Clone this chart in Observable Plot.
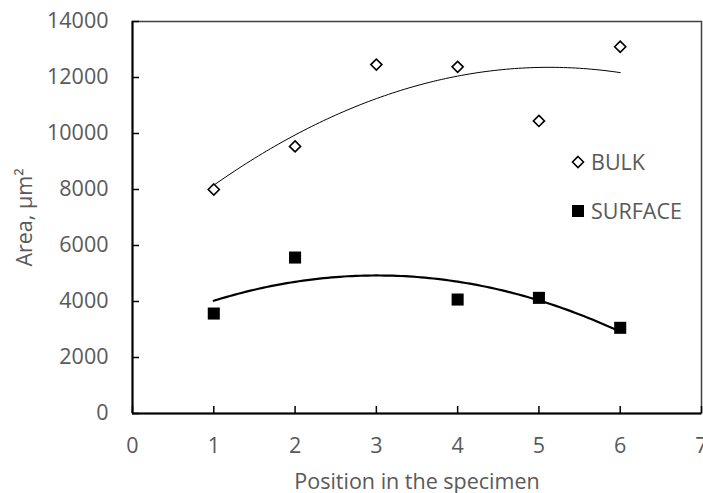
<!DOCTYPE html>
<html><head><meta charset="utf-8">
<script src="https://cdn.jsdelivr.net/npm/d3@7"></script>
<script src="https://cdn.jsdelivr.net/npm/@observablehq/plot@0.6"></script>
<style>
body{margin:0;background:#fff;font-family:"Open Sans",sans-serif;}
#wrap{position:relative;width:703px;height:493px;}
.leg{position:absolute;left:571px;font-size:21.5px;color:#595959;display:flex;align-items:center;white-space:nowrap;}
.leg svg{margin-right:6px;}
</style></head>
<body><div id="wrap"></div>
<script>
const positions = [1, 2, 3, 4, 5, 6];
const bulk = [8000, 9540, 12460, 12380, 10450, 13100];
const surfacePositions = [1, 2, 4, 5, 6];
const surface = [3570, 5570, 4070, 4130, 3060];
const xTicks = [0, 1, 2, 3, 4, 5, 6, 7];
const yTicks = [0, 2000, 4000, 6000, 8000, 10000, 12000, 14000];

const bulkData = positions.map((x, i) => ({x, y: bulk[i]}));
const surfData = surfacePositions.map((x, i) => ({x, y: surface[i]}));

// second-order polynomial trendline (least squares), as in the original chart
function polyFit(pts) {
  const n = pts.length;
  let sx=0,sx2=0,sx3=0,sx4=0,sy=0,sxy=0,sx2y=0;
  for (const {x,y} of pts){sx+=x;sx2+=x*x;sx3+=x**3;sx4+=x**4;sy+=y;sxy+=x*y;sx2y+=x*x*y;}
  const A=[[n,sx,sx2,sy],[sx,sx2,sx3,sxy],[sx2,sx3,sx4,sx2y]];
  for(let i=0;i<3;i++){for(let j=i+1;j<3;j++){const f=A[j][i]/A[i][i];for(let k=i;k<4;k++)A[j][k]-=f*A[i][k];}}
  const c=[0,0,0];
  for(let i=2;i>=0;i--){let s=A[i][3];for(let k=i+1;k<3;k++)s-=A[i][k]*c[k];c[i]=s/A[i][i];}
  const [x0,x1]=d3.extent(pts,d=>d.x);
  return d3.range(0,101).map(t=>{const x=x0+(x1-x0)*t/100;return {x,y:c[0]+c[1]*x+c[2]*x*x};});
}
const bulkTrend = polyFit(bulkData);
const surfTrend = polyFit(surfData);

const chart = Plot.plot({
  width: 703, height: 493,
  marginLeft: 132, marginRight: 2, marginTop: 21, marginBottom: 80,
  style: {fontFamily: "'Open Sans', sans-serif", fontSize: "21.5px", color: "#595959", background: "white"},
  x: {domain: [0, 7]},
  y: {domain: [0, 14000]},
  marks: [
    Plot.frame({stroke: "#404040", strokeWidth: 1.5}),
    Plot.axisX(xTicks, {tickSize: -7, stroke: "black", strokeWidth: 1.5, tickFormat: () => "", label: null}),
    Plot.axisY(yTicks, {tickSize: -7, stroke: "black", strokeWidth: 1.5, tickFormat: () => "", label: null}),
    Plot.axisX(xTicks, {tickSize: 0, tickPadding: 24, fill: "#595959", label: "Position in the specimen", labelAnchor: "center", labelArrow: "none", labelOffset: 75}),
    Plot.axisY(yTicks, {tickSize: 0, tickPadding: 24, fill: "#595959", label: "Area, µm²", labelAnchor: "center", labelArrow: "none", labelOffset: 116, tickFormat: d => String(d)}),
    Plot.ruleX([0], {stroke: "black", strokeWidth: 2}),
    Plot.ruleY([0], {stroke: "black", strokeWidth: 2}),
    Plot.line(bulkTrend, {x: "x", y: "y", stroke: "black", strokeWidth: 1, curve: "linear"}),
    Plot.line(surfTrend, {x: "x", y: "y", stroke: "black", strokeWidth: 2.2, curve: "linear"}),
    Plot.dot(bulkData, {x: "x", y: "y", symbol: "diamond2", r: 5, stroke: "black", strokeWidth: 1.6, fill: "white"}),
    Plot.dot(surfData, {x: "x", y: "y", symbol: "square", r: 6.8, fill: "black", stroke: "none"})
  ]
});
const wrap = document.getElementById("wrap");
wrap.appendChild(chart);

const legendItems = [
  {name: "BULK", top: 147, sym: '<svg width="14" height="14"><path d="M7,1.5L12.5,7L7,12.5L1.5,7Z" fill="white" stroke="black" stroke-width="1.6"/></svg>'},
  {name: "SURFACE", top: 196, sym: '<svg width="14" height="14"><rect x="1" y="1" width="12" height="12" fill="black"/></svg>'}
];
for (const it of legendItems) {
  const d = document.createElement("div");
  d.className = "leg";
  d.style.top = it.top + "px";
  d.innerHTML = it.sym + "<span>" + it.name + "</span>";
  wrap.appendChild(d);
}
</script></body></html>
